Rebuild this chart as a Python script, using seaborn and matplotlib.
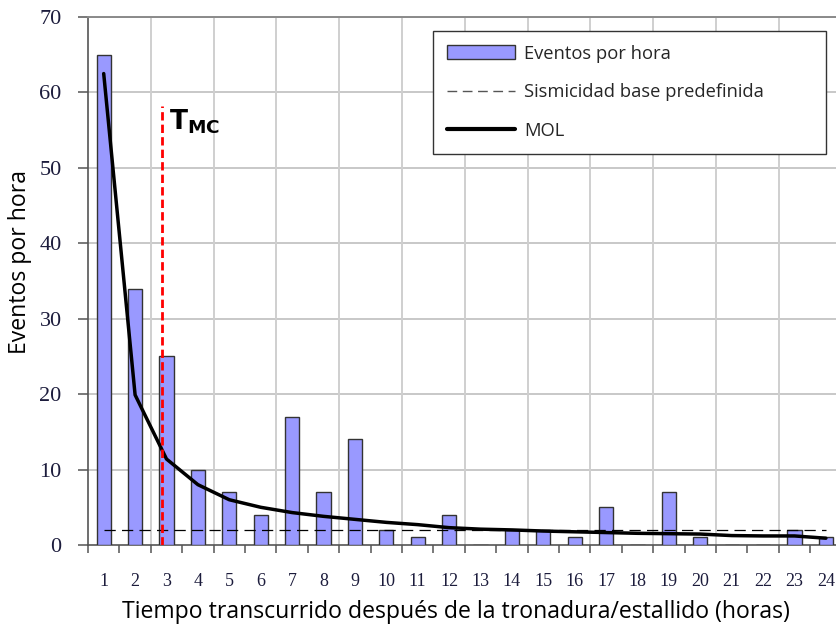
import numpy as np
import pandas as pd
import matplotlib
matplotlib.use("Agg")
import matplotlib.pyplot as plt
import seaborn as sns
from matplotlib.patches import Patch
from matplotlib.lines import Line2D

# Hourly event counts after the blast / rockburst
hours = [str(h) for h in range(1, 25)]
events = [65, 34, 25, 10, 7, 4, 17, 7, 14, 2, 1, 4, 0, 2, 2, 1, 5, 0, 7, 1, 0, 0, 2, 1]
# Modified Omori Law fit
mol = [62.5, 19.9, 11.4, 8.0, 6.0, 5.0, 4.3, 3.8, 3.4, 3.0, 2.7, 2.3,
       2.1, 2.0, 1.85, 1.75, 1.65, 1.55, 1.5, 1.45, 1.25, 1.2, 1.2, 0.9]
# Predefined background seismicity level
base_rate = 2.0
# Time of return to background (in hours, 1-based)
t_mc = 2.85
t_mc_top = 58.2

sns.set_theme(style="white")
plt.rcParams["font.family"] = ["Open Sans", "DejaVu Sans"]

fig = plt.figure(figsize=(8.36, 6.33), dpi=100)
ax = fig.add_axes([88 / 836, 88 / 633, 753.6 / 836, 528 / 633])

df = pd.DataFrame({"hora": hours, "eventos": events})
sns.barplot(data=df, x="hora", y="eventos", order=hours, color="#9999ff",
            saturation=1, width=0.45, edgecolor="#333333", linewidth=1.0,
            ax=ax, zorder=3)

pos = np.arange(len(hours))
sns.lineplot(x=pos, y=mol, color="black", linewidth=2.5, ax=ax, zorder=5)
ax.plot([pos[0], pos[-1]], [base_rate, base_rate], color="black", lw=0.9,
        dashes=(9, 5), zorder=4)
ax.plot([t_mc - 1, t_mc - 1], [0, t_mc_top], color="#ff0000", lw=2.0,
        dashes=(3, 1.5), zorder=6)
ax.text(t_mc - 1 + 0.22, 58.0, r"$\mathbf{T}_{\mathbf{MC}}$", fontsize=19,
        va="top", ha="left", color="black", zorder=7)

ax.set_xlim(-0.5, len(hours) - 0.5)
ax.set_ylim(0, 70)
ax.set_yticks(np.arange(0, 71, 10))

# grid: horizontal every 10, vertical every two hours
for y in range(10, 71, 10):
    ax.axhline(y, color="#c8c8c8", lw=1.4, zorder=0)
for b in np.arange(1.5, len(hours), 2):
    ax.axvline(b, color="#cfcfcf", lw=1.4, zorder=0)

ax.spines["right"].set_visible(False)
ax.spines["top"].set_color("#8a8a8a")
ax.spines["top"].set_linewidth(1.4)
for side in ["left", "bottom"]:
    ax.spines[side].set_color("#555555")
    ax.spines[side].set_linewidth(1.2)

ax.set_xticks(pos)
ax.set_xticklabels(hours, fontdict={"family": "Liberation Serif", "size": 13},
                   color="#1c1c3c")
ax.set_xticks(np.arange(-0.5, len(hours), 1), minor=True)
ax.tick_params(axis="x", which="major", length=0, pad=20)
ax.tick_params(axis="x", which="minor", length=6, width=1.1, color="#555555",
               direction="out", bottom=True)
ax.set_yticklabels([str(v) for v in range(0, 71, 10)],
                   fontdict={"family": "Liberation Serif", "size": 16},
                   color="#1c1c3c")
ax.tick_params(axis="y", length=7, width=1.1, color="#555555", direction="out",
               left=True, pad=12)

ax.set_xlabel("Tiempo transcurrido después de la tronadura/estallido (horas)",
              fontsize=16.6, color="black")
ax.xaxis.set_label_coords((456 - 88) / 753.6, -(600 - 545) / 528, transform=ax.transAxes)
ax.xaxis.label.set_va("top")
ax.set_ylabel("Eventos por hora", fontsize=16.6, color="black")
ax.yaxis.set_label_coords(-(88 - 20) / 753.6, (545 - 262) / 528, transform=ax.transAxes)
ax.yaxis.label.set_va("center")

handles = [
    Patch(facecolor="#9999ff", edgecolor="#333333", linewidth=1.0),
    Line2D([0], [0], color="#555555", lw=1.0, dashes=(7, 4)),
    Line2D([0], [0], color="black", lw=3.0),
]
labels = ["Eventos por hora", "Sismicidad base predefinida", "MOL"]
leg = ax.legend(handles, labels, loc="upper left", mode="expand",
                bbox_to_anchor=(433 / 836, 1 - 150 / 633, 393 / 836, 119 / 633),
                bbox_transform=fig.transFigure, fontsize=13.2,
                handlelength=3.7, handleheight=0.8, handletextpad=0.5,
                labelspacing=1.12, borderpad=0.75, borderaxespad=0,
                frameon=True, fancybox=False, edgecolor="#333333",
                framealpha=1)
leg.get_frame().set_linewidth(1.0)
leg.set_zorder(10)

fig.savefig("out.png", dpi=100)
